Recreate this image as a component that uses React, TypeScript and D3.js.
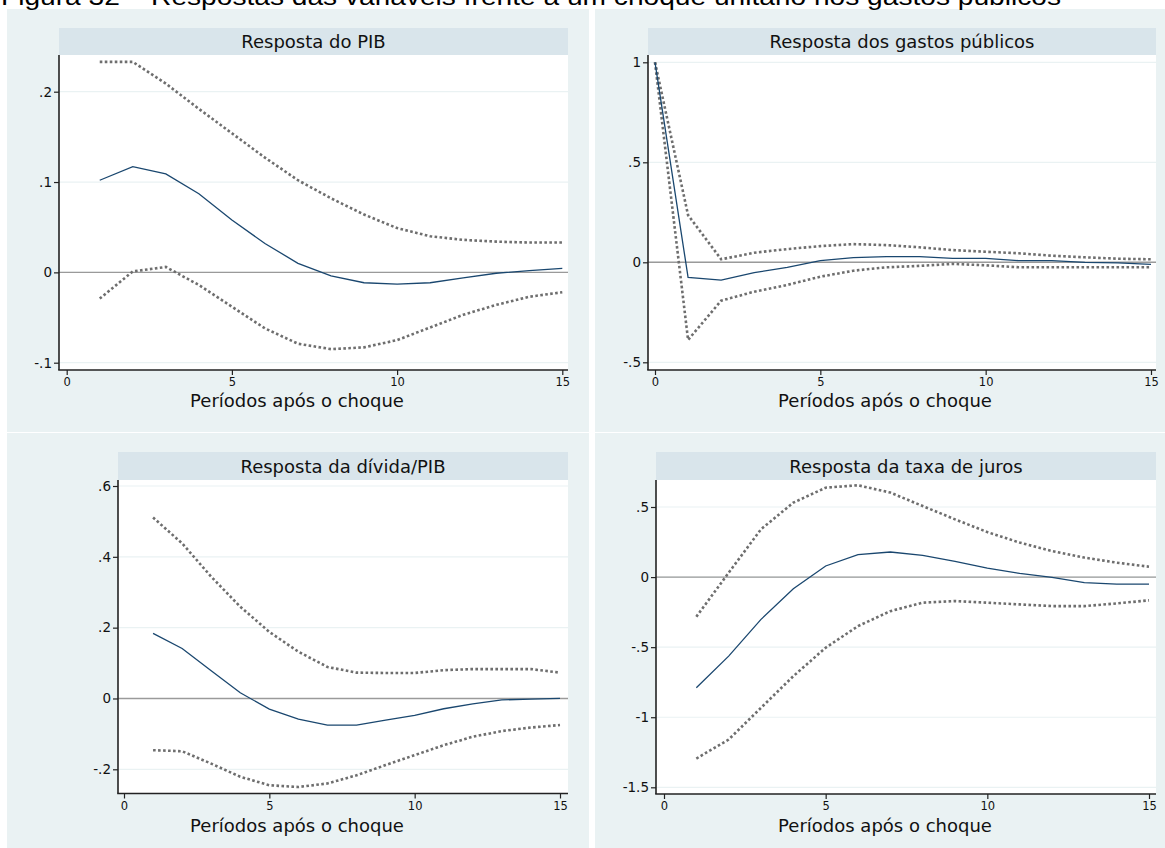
import React, { useEffect, useRef } from "react";
import * as d3 from "d3";

// horizons
const periods1 = [1, 2, 3, 4, 5, 6, 7, 8, 9, 10, 11, 12, 13, 14, 15];
const periods0 = [0, 1, 2, 3, 4, 5, 6, 7, 8, 9, 10, 11, 12, 13, 14, 15];
const xTicks = [0, 5, 10, 15];

// Resposta do PIB
const pibResp = [0.102, 0.117, 0.109, 0.087, 0.058, 0.032, 0.010, -0.004, -0.0115, -0.013, -0.0115, -0.006, -0.001, 0.002, 0.0044];
const pibUpper = [0.233, 0.233, 0.209, 0.181, 0.154, 0.127, 0.102, 0.082, 0.064, 0.049, 0.040, 0.036, 0.034, 0.033, 0.033];
const pibLower = [-0.029, 0.001, 0.006, -0.014, -0.038, -0.062, -0.079, -0.085, -0.083, -0.075, -0.061, -0.047, -0.036, -0.027, -0.022];
const pibTicks = [-0.1, 0, 0.1, 0.2];

// Resposta dos gastos publicos
const gastosResp = [1.0, -0.075, -0.089, -0.052, -0.025, 0.008, 0.023, 0.028, 0.028, 0.020, 0.020, 0.008, 0.008, 0.0, -0.003, -0.010];
const gastosUpper = [1.0, 0.236, 0.015, 0.048, 0.066, 0.081, 0.091, 0.086, 0.075, 0.061, 0.053, 0.045, 0.033, 0.025, 0.018, 0.015];
const gastosLower = [1.0, -0.388, -0.192, -0.147, -0.113, -0.072, -0.042, -0.025, -0.018, -0.008, -0.015, -0.025, -0.025, -0.025, -0.025, -0.025];
const gastosTicks = [-0.5, 0, 0.5, 1];

// Resposta da divida/PIB
const dividaResp = [0.184, 0.141, 0.078, 0.016, -0.030, -0.058, -0.075, -0.075, -0.061, -0.048, -0.029, -0.015, -0.004, -0.002, 0.0];
const dividaUpper = [0.511, 0.438, 0.344, 0.259, 0.188, 0.132, 0.089, 0.073, 0.072, 0.072, 0.080, 0.083, 0.083, 0.083, 0.073];
const dividaLower = [-0.146, -0.149, -0.184, -0.221, -0.245, -0.250, -0.240, -0.217, -0.188, -0.160, -0.132, -0.108, -0.092, -0.082, -0.075];
const dividaTicks = [-0.2, 0, 0.2, 0.4, 0.6];

// Resposta da taxa de juros
const jurosResp = [-0.790, -0.564, -0.302, -0.083, 0.079, 0.160, 0.179, 0.155, 0.112, 0.064, 0.026, -0.002, -0.040, -0.050, -0.050];
const jurosUpper = [-0.283, 0.031, 0.341, 0.531, 0.638, 0.655, 0.603, 0.507, 0.412, 0.321, 0.246, 0.186, 0.139, 0.103, 0.074];
const jurosLower = [-1.295, -1.159, -0.933, -0.707, -0.504, -0.350, -0.243, -0.183, -0.171, -0.183, -0.195, -0.207, -0.207, -0.188, -0.166];
const jurosTicks = [-1.5, -1, -0.5, 0, 0.5];

const caption = "Figura 32 – Respostas das variáveis frente a um choque unitário nos gastos públicos";
const xTitle = "Períodos após o choque";

const W = 1165, H = 848;
const FONT = "'DejaVu Sans', sans-serif";

// stata style labels: .5, -.1, 1
const fmt = (v: number) => String(v).replace(/^(-?)0\./, "$1.");

const panels = [
  { title: "Resposta do PIB", t: periods1, resp: pibResp, up: pibUpper, lo: pibLower, ticks: pibTicks,
    bg: [7, 9, 582, 423], left: 59, right: 568, top: 55, bottom: 370, barTop: 28,
    xr: [66.7, 562.3], yr: [362.7, 91.7], titleX: 297, titleY: 407 },
  { title: "Resposta dos gastos públicos", t: periods0, resp: gastosResp, up: gastosUpper, lo: gastosLower, ticks: gastosTicks,
    bg: [595, 9, 570, 423], left: 648, right: 1156, top: 55, bottom: 370, barTop: 28,
    xr: [655, 1151], yr: [362.3, 62.3], titleX: 885, titleY: 407 },
  { title: "Resposta da dívida/PIB", t: periods1, resp: dividaResp, up: dividaUpper, lo: dividaLower, ticks: dividaTicks,
    bg: [7, 433, 582, 415], left: 118, right: 568, top: 480, bottom: 793.5, barTop: 452,
    xr: [124, 560], yr: [769.3, 486], titleX: 297, titleY: 832 },
  { title: "Resposta da taxa de juros", t: periods1, resp: jurosResp, up: jurosUpper, lo: jurosLower, ticks: jurosTicks,
    bg: [595, 433, 570, 415], left: 656, right: 1156, top: 480, bottom: 794, barTop: 452,
    xr: [664, 1149], yr: [787.3, 507], titleX: 885, titleY: 832 },
];

export default function App() {
  const ref = useRef<SVGSVGElement>(null);

  useEffect(() => {
    const svg = d3.select(ref.current);
    svg.selectAll("*").remove();

    svg.append("rect").attr("width", W).attr("height", H).attr("fill", "#ffffff");

    panels.forEach((p) => {
      const g = svg.append("g");
      const ticks = p.ticks;
      const x = d3.scaleLinear().domain([0, 15]).range(p.xr);
      const y = d3.scaleLinear().domain([ticks[0], ticks[ticks.length - 1]]).range(p.yr);

      g.append("rect")
        .attr("x", p.bg[0]).attr("y", p.bg[1])
        .attr("width", p.bg[2]).attr("height", p.bg[3])
        .attr("fill", "#eaf2f3");

      // title bar
      g.append("rect")
        .attr("x", p.left).attr("y", p.barTop)
        .attr("width", p.right - p.left).attr("height", p.top - p.barTop)
        .attr("fill", "#d9e5eb");
      g.append("text")
        .attr("x", (p.left + p.right) / 2)
        .attr("y", p.barTop + (p.top - p.barTop) / 2 + 6.5)
        .attr("text-anchor", "middle")
        .style("font-family", FONT).style("font-size", "18px").style("fill", "#111")
        .text(p.title);

      // plot region
      g.append("rect")
        .attr("x", p.left).attr("y", p.top)
        .attr("width", p.right - p.left).attr("height", p.bottom - p.top)
        .attr("fill", "#ffffff");

      g.selectAll(".grid")
        .data(ticks)
        .join("line")
        .attr("x1", p.left).attr("x2", p.right)
        .attr("y1", (d) => y(d)).attr("y2", (d) => y(d))
        .attr("stroke", "#eaf2f3").attr("stroke-width", 1.2);

      g.append("line")
        .attr("x1", p.left).attr("x2", p.right)
        .attr("y1", y(0)).attr("y2", y(0))
        .attr("stroke", "#9a9a9a").attr("stroke-width", 1.4);

      // confidence bands and response
      const line = d3.line<number>()
        .x((d, i) => x(p.t[i]))
        .y((d) => y(d));

      [p.up, p.lo].forEach((band) => {
        g.append("path")
          .attr("d", line(band))
          .attr("fill", "none")
          .attr("stroke", "#6e6e6e")
          .attr("stroke-width", 2.6)
          .attr("stroke-dasharray", "2.6 2.4");
      });

      g.append("path")
        .attr("d", line(p.resp))
        .attr("fill", "none")
        .attr("stroke", "#1a476f")
        .attr("stroke-width", 1.3);

      // axes
      const yAxis = g.append("g")
        .attr("transform", `translate(${p.left},0)`)
        .call(d3.axisLeft(y).tickValues(ticks).tickSize(5).tickPadding(2).tickFormat((d) => fmt(+d)));
      yAxis.select(".domain").remove();
      yAxis.selectAll("line").attr("stroke", "#222").attr("stroke-width", 1.2);
      yAxis.selectAll("text")
        .style("font-family", FONT).style("font-size", "13.5px").style("fill", "#111");

      const xAxis = g.append("g")
        .attr("transform", `translate(0,${p.bottom})`)
        .call(d3.axisBottom(x).tickValues(xTicks).tickSize(5).tickPadding(3).tickFormat((d) => String(d)));
      xAxis.select(".domain").remove();
      xAxis.selectAll("line").attr("stroke", "#222").attr("stroke-width", 1.2);
      xAxis.selectAll("text")
        .style("font-family", FONT).style("font-size", "11.5px").style("fill", "#111");

      g.append("line")
        .attr("x1", p.left).attr("x2", p.left)
        .attr("y1", p.top).attr("y2", p.bottom)
        .attr("stroke", "#222").attr("stroke-width", 1.6);
      g.append("line")
        .attr("x1", p.left - 0.8).attr("x2", p.right)
        .attr("y1", p.bottom).attr("y2", p.bottom)
        .attr("stroke", "#222").attr("stroke-width", 1.6);

      g.append("text")
        .attr("x", p.titleX).attr("y", p.titleY)
        .attr("text-anchor", "middle")
        .style("font-family", FONT).style("font-size", "18px").style("fill", "#111")
        .text(xTitle);
    });

    // caption cut by the top edge
    svg.append("text")
      .attr("x", 1).attr("y", 5)
      .attr("textLength", 1060)
      .attr("lengthAdjust", "spacingAndGlyphs")
      .style("font-family", "'Liberation Sans', Arial, sans-serif")
      .style("font-size", "23px").style("fill", "#000")
      .text(caption);
  }, []);

  return (
    <svg ref={ref} width={W} height={H}
      style={{ position: "absolute", left: 0, top: 0, display: "block" }} />
  );
}
